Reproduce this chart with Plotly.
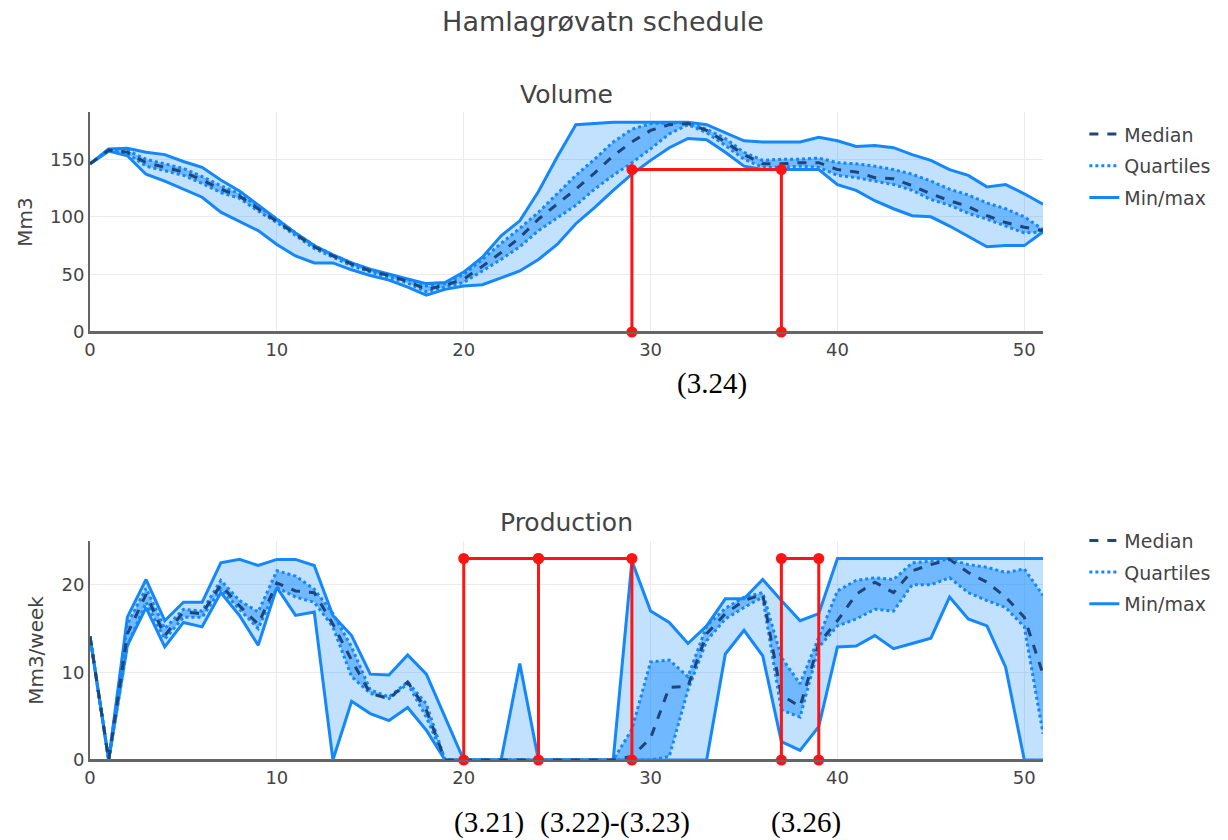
import plotly.graph_objects as go

weeks = list(range(52))

vol_max = [146,159,159.5,156,154,148,143,132,122.5,110,98,86,75,67,60,54.5,50,46,42,43,52,65,83.5,96.5,122,152,180,181,182,182,182,182,182,180,173,166,165,165,165,169,166,161,162,160,154,149,141,136,126,128,120,111]
vol_q3 = [146,158.5,157.5,150,146,142,135,127,120,109,98,86,75,67,60,54,50,45.5,40,42,50,63,77,90,104,120,136,150,165,176,181,181.5,181.5,176,168,156,149,150,150,151,147,146,144,141,137,131,124,119,112,107,100,89]
vol_med = [146,158,156,147,143,139,132,124,118,107,96.5,85,74,66,59,53,49,44,37,40.5,46,57,69,82,98,111,124,138,153,165,175,180,181,175,165,154,146,146,147,147,141,139,134,133,127,120,114,109,101,95,91,88]
vol_q1 = [146,157.5,155,144,140,136,129,121,116,105,95,83.5,72.5,65,57.5,52,47.5,42.5,35,39,43,53,63,74,88,99,110,124,136,147,159,172,180,173,162,150,143,143,144,143,136,134,131,128,123,115,110,103,98,92,86,87]
vol_min = [146,157,153,137,131,124,117,104,96,88,76,66,60,60,54,49,45,39,32,37,40,41,47,53,63,76,94,108,123,137,149,160,168,167,156,144,141,141,141,141,128,123,114,107,101,100,92,83,74,75,75,87]

prod_max = [14.1,0,16.3,20.6,15.9,18,18,22.5,22.9,22.2,22.9,22.9,22.2,16.5,14.2,9.8,9.7,12,9.8,4.9,0,0,0,11,0,0,0,0,0,22.7,17,15.7,13.3,15.3,18.4,18.4,20.6,18.2,15.9,16.7,23,23,23,23,23,23,23,23,23,23,23,23]
prod_q3 = [14.1,0,15.5,19.6,15.0,17.2,17.0,20.5,18.2,16.9,21.6,21.0,19.5,16.7,12.9,8.0,7.2,8.9,6.4,0,0,0,0,0,0,0,0,0,0,3.5,11.2,11.4,9.5,15.3,17.3,18.6,19.1,11.7,8.7,14,19.3,20.5,20.8,20.6,22.5,22.7,22.9,22.3,22,21.4,21.8,18.8]
prod_med = [14.1,0,14.4,18.9,14.2,16.9,16.7,20,17.6,15.5,20.2,19.3,19.1,15.5,11.4,7.6,7,8.9,5.7,0,0,0,0,0,0,0,0,0,0,0.4,2.5,8.3,8.4,14.4,16.7,18.2,18.9,7.4,6.1,13.3,15.9,18.9,20.3,19.1,21.6,22.3,22.9,21.4,20.3,18.6,16.3,9.8]
prod_q1 = [14.1,0,13.0,18.0,13.8,16.3,16.3,19.5,17.2,15.0,19.7,18.6,18.0,15.2,9.5,7.6,7.0,8.7,4.9,0,0,0,0,0,0,0,0,0,0,0,0,0.4,8.0,13.6,16.1,17.4,18.6,5.7,4.9,12.9,15.3,16.1,17.2,17.0,20.0,20.0,20.8,19.1,18.2,17.4,15.2,3.0]
prod_min = [14.1,0,13.1,17.4,12.9,15.7,15.2,19.1,16.5,13.1,19.7,16.5,16.9,0,6.7,5.3,4.5,6,3.4,0,0,0,0,0,0,0,0,0,0,0,0,0,0,0,12.1,14.8,11.9,2.1,1.1,3.8,12.9,13,14.2,12.7,13.3,13.9,18.6,16.1,15.3,10.6,0,0]

# red reference markers
vol_ref_x = [29, 29, 37, 37]
vol_ref_y = [0, 141, 141, 0]
prod_ref1_x = [20, 20, 24, 29, 29, None, 24, 24]
prod_ref1_y = [0, 23, 23, 23, 0, None, 0, 23]
prod_ref2_x = [37, 37, 39, 39]
prod_ref2_y = [0, 23, 23, 0]

BLUE = "rgb(20,135,250)"
NAVY = "rgb(30,70,120)"
FILL_MM = "rgba(30,144,255,0.27)"
FILL_Q = "rgba(30,144,255,0.5)"
RED = "rgb(255,20,20)"
FONT = "DejaVu Sans"

fig = go.Figure()


def add_band(xa, ya, legend, mx, q3, med, q1, mn):
    fig.add_trace(go.Scatter(x=weeks, y=mx, mode="lines", line=dict(color=BLUE, width=3),
                             name="Min/max", legendgroup="mm" + legend, legend=legend,
                             legendrank=3, showlegend=True, xaxis=xa, yaxis=ya))
    fig.add_trace(go.Scatter(x=weeks, y=mn, mode="lines", line=dict(color=BLUE, width=3),
                             fill="tonexty", fillcolor=FILL_MM, name="Min/max",
                             legendgroup="mm" + legend, legend=legend, showlegend=False,
                             xaxis=xa, yaxis=ya))
    fig.add_trace(go.Scatter(x=weeks, y=q3, mode="lines", line=dict(color=BLUE, width=3, dash="dot"),
                             name="Quartiles", legendgroup="q" + legend, legend=legend,
                             legendrank=2, showlegend=True, xaxis=xa, yaxis=ya))
    fig.add_trace(go.Scatter(x=weeks, y=q1, mode="lines", line=dict(color=BLUE, width=3, dash="dot"),
                             fill="tonexty", fillcolor=FILL_Q, name="Quartiles",
                             legendgroup="q" + legend, legend=legend, showlegend=False,
                             xaxis=xa, yaxis=ya))
    fig.add_trace(go.Scatter(x=weeks, y=med, mode="lines", line=dict(color=NAVY, width=3, dash="dash"),
                             name="Median", legendgroup="m" + legend, legend=legend,
                             legendrank=1, showlegend=True, xaxis=xa, yaxis=ya))


add_band("x", "y", "legend", vol_max, vol_q3, vol_med, vol_q1, vol_min)
add_band("x2", "y2", "legend2", prod_max, prod_q3, prod_med, prod_q1, prod_min)

for xs, ys, xa, ya in [(vol_ref_x, vol_ref_y, "x", "y"),
                       (prod_ref1_x, prod_ref1_y, "x2", "y2"),
                       (prod_ref2_x, prod_ref2_y, "x2", "y2")]:
    fig.add_trace(go.Scatter(x=xs, y=ys, mode="lines+markers",
                             line=dict(color=RED, width=3), marker=dict(color=RED, size=11),
                             cliponaxis=False, showlegend=False, xaxis=xa, yaxis=ya))

axis_common = dict(showgrid=True, gridcolor="#ebebeb", gridwidth=1,
                   zeroline=True, zerolinecolor="#666", zerolinewidth=2,
                   showline=True, linecolor="#666", linewidth=2,
                   tickfont=dict(size=18, color="#444", family=FONT))

legend_common = dict(xanchor="left", yanchor="top", tracegroupgap=4,
                     font=dict(size=19, family=FONT, color="#444"), bgcolor="rgba(0,0,0,0)")

fig.update_layout(
    width=1228, height=840,
    margin=dict(l=90, r=182, t=112, b=80),
    paper_bgcolor="white", plot_bgcolor="white",
    font=dict(family=FONT, size=19, color="#444"),
    title=dict(text="Hamlagrøvatn schedule", x=603 / 1228, xanchor="center",
               y=1 - 22 / 840, yanchor="middle", yref="container",
               font=dict(size=27, family=FONT, color="#444")),
    xaxis=dict(domain=[0, 1], range=[0, 51], dtick=10, anchor="y", **axis_common),
    yaxis=dict(domain=[0.6605, 1], range=[0, 191], dtick=50, anchor="x",
               title=dict(text="Mm3", font=dict(size=20), standoff=12), **axis_common),
    xaxis2=dict(domain=[0, 1], range=[0, 51], dtick=10, anchor="y2", **axis_common),
    yaxis2=dict(domain=[0, 0.338], range=[0, 25], dtick=10, anchor="x2",
                title=dict(text="Mm3/week", font=dict(size=20), standoff=12), **axis_common),
    legend=dict(x=1.0434, y=0.995, **legend_common),
    legend2=dict(x=1.0434, y=0.368, **legend_common),
    showlegend=True,
)

serif = dict(size=29, family="Liberation Serif", color="black")
annots = [
    dict(text="Volume", x=0.5, y=1.0, xref="paper", yref="paper", xanchor="center",
         yanchor="bottom", showarrow=False, font=dict(size=25, family=FONT, color="#444"), yshift=1),
    dict(text="Production", x=0.5, y=0.338, xref="paper", yref="paper", xanchor="center",
         yanchor="bottom", showarrow=False, font=dict(size=25, family=FONT, color="#444"), yshift=2),
    dict(text="(3.24)", x=(714 - 90) / 956, y=(760 - 383) / 648, xref="paper", yref="paper",
         xanchor="center", yanchor="middle", showarrow=False, font=serif),
    dict(text="(3.21)", x=(490 - 90) / 956, y=(760 - 822) / 648, xref="paper", yref="paper",
         xanchor="center", yanchor="middle", showarrow=False, font=serif),
    dict(text="(3.22)-(3.23)", x=(617 - 90) / 956, y=(760 - 822) / 648, xref="paper", yref="paper",
         xanchor="center", yanchor="middle", showarrow=False, font=serif),
    dict(text="(3.26)", x=(808 - 90) / 956, y=(760 - 822) / 648, xref="paper", yref="paper",
         xanchor="center", yanchor="middle", showarrow=False, font=serif),
]
fig.update_layout(annotations=annots)

fig.write_html("out.html")
